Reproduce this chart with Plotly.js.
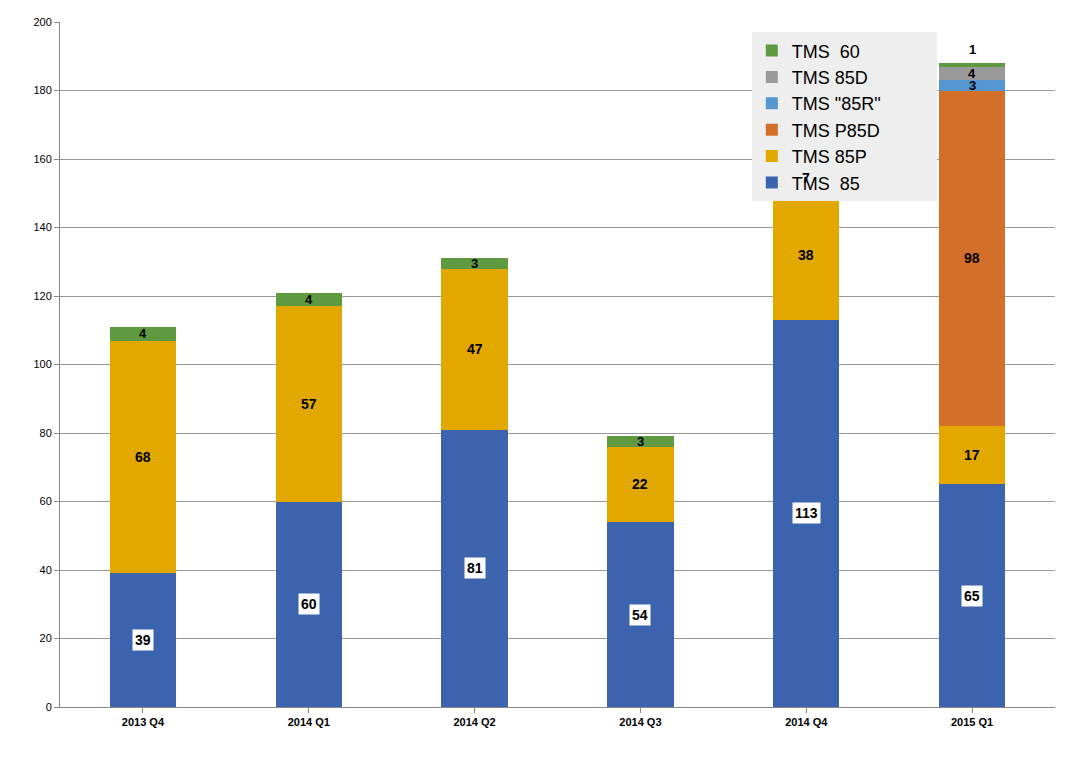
<!DOCTYPE html>
<html>
<head>
<meta charset="utf-8">
<script src="https://cdn.plot.ly/plotly-3.0.1.min.js"></script>
<style>body{margin:0;background:#fff}#chart{width:1091px;height:757px}</style>
</head>
<body>
<div id="chart"></div>
<script>
var quarters = ['2013 Q4', '2014 Q1', '2014 Q2', '2014 Q3', '2014 Q4', '2015 Q1'];
var tms85 = [39, 60, 81, 54, 113, 65];
var tms85P = [68, 57, 47, 22, 38, 17];
var tmsP85D = [0, 0, 0, 0, 0, 98];
var tms85R = [0, 0, 0, 0, 0, 3];
var tms85D = [0, 0, 0, 0, 0, 4];
var tms60 = [4, 4, 3, 3, 7, 1];

var series = [
    {name: 'TMS  85', y: tms85, color: '#3C64AE'},
    {name: 'TMS 85P', y: tms85P, color: '#E2A800'},
    {name: 'TMS P85D', y: tmsP85D, color: '#D46F2A'},
    {name: 'TMS "85R"', y: tms85R, color: '#5595D0'},
    {name: 'TMS 85D', y: tms85D, color: '#9A9A9A'},
    {name: 'TMS  60', y: tms60, color: '#5F9A41'}
];

var data = [];
var annotations = [];
var base = quarters.map(function () { return 0; });
series.forEach(function (s, si) {
    data.push({
        type: 'bar', x: quarters, y: s.y, name: s.name,
        marker: {color: s.color}, hoverinfo: 'y+name'
    });
    s.y.forEach(function (v, i) {
        if (v > 0) {
            // the tiny top segment of 2015 Q1 gets its label above the bar
            var yy = base[i] + v / 2;
            if (si == 5 && i == 5) yy = base[i] + v + 4;
            annotations.push({
                x: quarters[i], y: yy, text: '<b>' + v + '</b>', showarrow: false,
                font: {family: 'Arial', size: v < 5 ? 13 : 14, color: '#000'},
                bgcolor: si == 0 ? '#fff' : 'rgba(0,0,0,0)', borderpad: si == 0 ? 2 : 0
            });
        }
        base[i] += v;
    });
});

var layout = {
    barmode: 'stack',
    bargap: 0.6,
    showlegend: true,
    margin: {l: 60, r: 36, t: 22, b: 50},
    paper_bgcolor: '#fff', plot_bgcolor: '#fff',
    font: {family: 'Arial', color: '#000'},
    xaxis: {
        showline: true, linecolor: '#888', ticks: 'outside', tickcolor: '#888',
        tickfont: {size: 11, family: 'Arial', weight: 'bold'}
    },
    yaxis: {
        range: [0, 200], dtick: 20, showgrid: true, gridcolor: '#999',
        showline: true, linecolor: '#888', ticks: 'outside', tickcolor: '#888',
        tickfont: {size: 11}, zeroline: false
    },
    legend: {
        orientation: 'h', traceorder: 'reversed',
        x: 0.47, y: 0.985, xanchor: 'right', yanchor: 'top',
        bgcolor: '#EEEEEE', entrywidth: 140,
        font: {size: 18, family: 'Arial'}
    },
    annotations: annotations
};

Plotly.newPlot('chart', data, layout, {displayModeBar: false});
</script>
</body>
</html>
